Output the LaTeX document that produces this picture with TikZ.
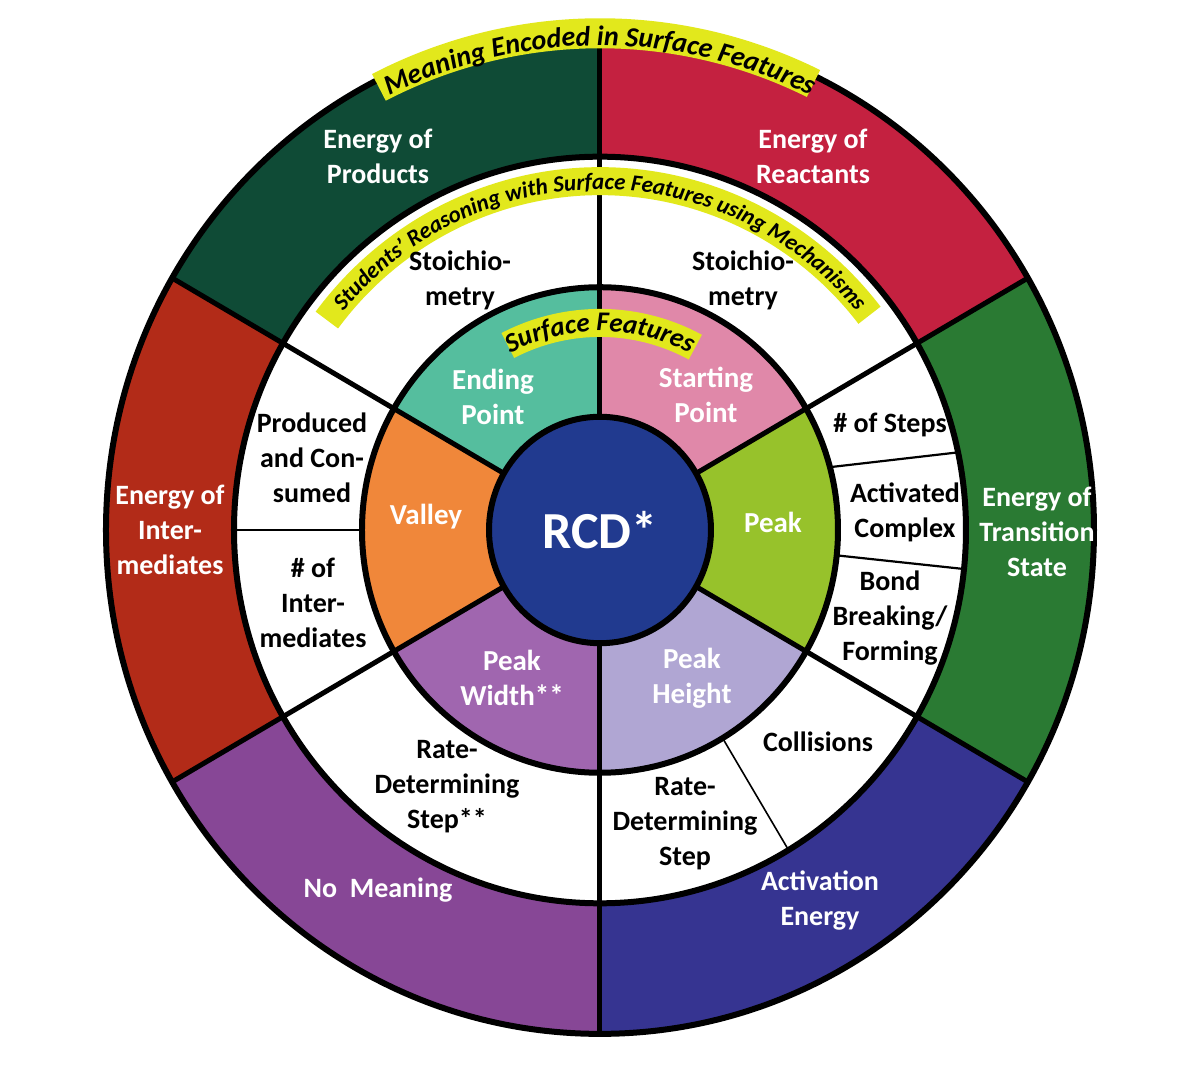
\documentclass[tikz,border=0pt]{standalone}
\usepackage{fontspec}
\setmainfont{Carlito}
\usetikzlibrary{decorations.text}
\definecolor{cProd}{HTML}{0F4B36}
\definecolor{cReact}{HTML}{C42140}
\definecolor{cTS}{HTML}{2A7A33}
\definecolor{cAct}{HTML}{363491}
\definecolor{cNoM}{HTML}{874796}
\definecolor{cInter}{HTML}{B22B18}
\definecolor{cStart}{HTML}{E088A9}
\definecolor{cEnd}{HTML}{55BE9E}
\definecolor{cValley}{HTML}{F0873A}
\definecolor{cWidth}{HTML}{A066AF}
\definecolor{cHeight}{HTML}{B0A6D3}
\definecolor{cPeak}{HTML}{97C22B}
\definecolor{cRCD}{HTML}{213A8F}
\definecolor{cYel}{HTML}{E2E81C}
\begin{document}
\begin{tikzpicture}[x=1pt,y=1.02pt,
  wlab/.style={font=\bfseries\fontsize{28}{35}\selectfont, align=center, text=white, inner sep=0pt},
  blab/.style={font=\bfseries\fontsize{28}{35}\selectfont, align=center, text=black, inner sep=0pt},
  ilab/.style={font=\bfseries\fontsize{29}{35}\selectfont, align=center, text=white, inner sep=0pt},
  ringline/.style={line width=6pt},
  spoke/.style={line width=5pt},
  divline/.style={line width=2.2pt},
  band/.style={cYel, line width=30pt}]
\useasboundingbox (-600,-531.4) rectangle (603,519.6);
% outer ring sectors
\foreach \c/\a in {cTS/-30, cReact/30, cProd/90, cInter/150, cNoM/210, cAct/270}
  {\fill[\c] (0,0) -- (\a:494) arc[start angle=\a, delta angle=60, radius=494] -- cycle;}
\fill[white] (0,0) circle[radius=366];
% inner ring sectors
\foreach \c/\a in {cPeak/-30, cStart/30, cEnd/90, cValley/150, cWidth/210, cHeight/270}
  {\fill[\c] (0,0) -- (\a:238) arc[start angle=\a, delta angle=60, radius=238] -- cycle;}
\fill[cRCD] (0,0) circle[radius=111];
% spokes
\foreach \a in {30,90,...,330} \draw[spoke] (\a:111) -- (\a:494);
% thin dividers in the white ring
\draw[divline] (15:238) -- (12:366);
\draw[divline] (-6:238) -- (-6:366);
\draw[line width=2.8pt] (180:238) -- (180:366);
\draw[line width=1.6pt] (-59:238) -- (-59:366);
% ring borders
\foreach \r in {111,238,366,494} \draw[ringline] (0,0) circle[radius=\r];
% yellow bands and curved titles
\draw[band] (117:487) arc[start angle=117, end angle=64, radius=487];
\path[decorate, decoration={text along path, text align=center, text={|\bfseries\itshape\fontsize{28}{28}\selectfont|Meaning Encoded in Surface Features}}]
  (150:475) arc[start angle=150, end angle=30, radius=475];
\draw[band, line width=28pt] (143:342) arc[start angle=143, end angle=38, radius=342];
\path[decorate, decoration={text along path, text align=center, text={|\bfseries\itshape\fontsize{23}{23}\selectfont|Students’ Reasoning with Surface Features using Mechanisms}}]
  (170:334) arc[start angle=170, end angle=10, radius=334];
\draw[band, line width=28pt] (117:203) arc[start angle=117, end angle=62, radius=203];
\path[decorate, decoration={text along path, text align=center, text={|\bfseries\itshape\fontsize{27}{27}\selectfont|Surface Features}}]
  (150:195) arc[start angle=150, end angle=30, radius=195];
% outer ring labels
\node[wlab] (prod) at (-222,366.7) {Energy of\\Products};
\node[wlab] (react) at (213,366.7) {Energy of\\Reactants};
\node[wlab] (inter) at (-430,0) {Energy of\\Inter-\\mediates};
\node[wlab] (ts) at (437,-2) {Energy of\\Transition\\State};
\node[wlab] (nomean) at (-222,-353) {No\ \ Meaning};
\node[wlab] (act) at (220,-363) {Activation\\Energy};
% middle ring labels
\node[blab] (stoL) at (-140,245) {Stoichio-\\metry};
\node[blab] (stoR) at (143,245) {Stoichio-\\metry};
\node[blab] (prodcon) at (-288,70.6) {Produced\\and Con-\\sumed};
\node[blab] (nint) at (-287,-71.6) {\# of\\Inter-\\mediates};
\node[blab] (rdsA) at (-153,-252) {Rate-\\Determining\\Step**};
\node[blab] (rdsB) at (85,-288) {Rate-\\Determining\\Step};
\node[blab] (coll) at (218,-208) {Collisions};
\node[blab] (bond) at (290,-86) {Bond\\Breaking/\\Forming};
\node[blab] (actc) at (305,17.6) {Activated\\Complex};
\node[blab] (nsteps) at (290,103) {\# of Steps};
% inner ring labels
\node[ilab] (endp) at (-107,130) {Ending\\Point};
\node[ilab] (startp) at (106,132) {Starting\\Point};
\node[ilab] (valley) at (-174,12.7) {Valley};
\node[ilab] (peak) at (173,7.8) {Peak};
\node[ilab] (pwidth) at (-88,-145) {Peak\\Width**};
\node[ilab] (pheight) at (92,-145) {Peak\\Height};
\node[font=\bfseries\fontsize{52}{52}\selectfont, text=white, inner sep=0pt] (rcd) at (0,0) {RCD*};
\end{tikzpicture}
\end{document}
